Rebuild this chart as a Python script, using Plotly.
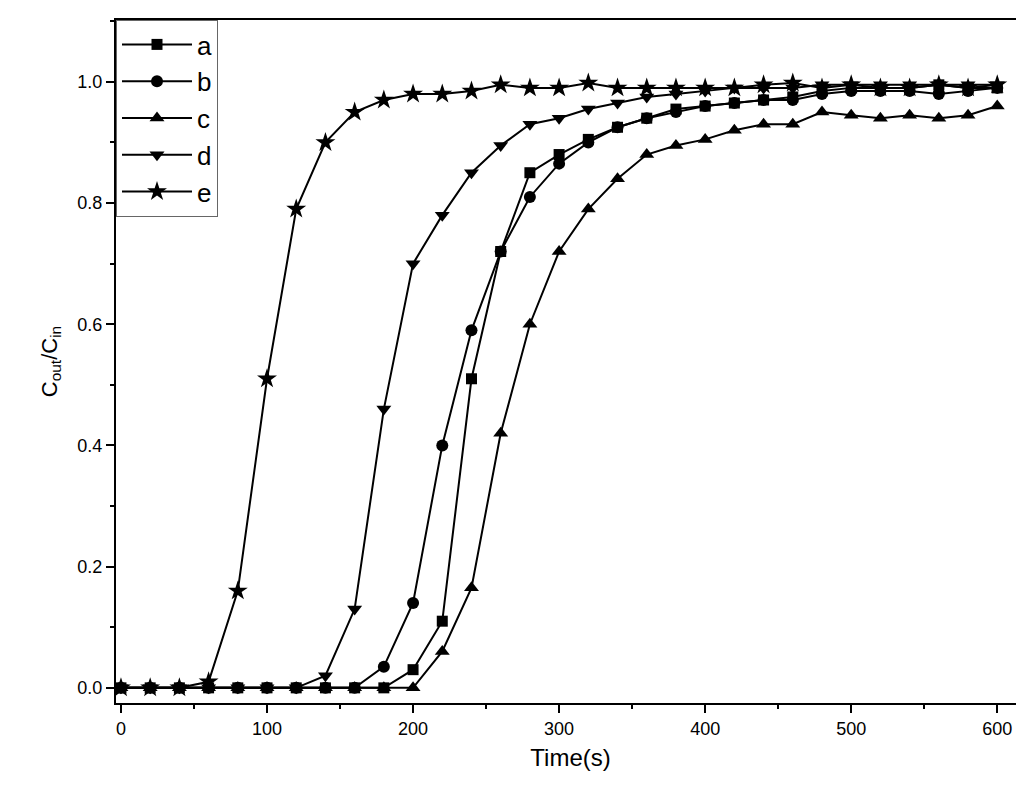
import plotly.graph_objects as go

time = list(range(0, 601, 20))
a = [0,0,0,0,0,0,0,0,0,0,0.03,0.11,0.51,0.72,0.85,0.88,0.905,0.925,0.94,0.955,0.96,0.965,0.97,0.975,0.985,0.99,0.99,0.99,0.995,0.99,0.99]
b = [0,0,0,0,0,0,0,0,0,0.035,0.14,0.40,0.59,0.72,0.81,0.865,0.90,0.925,0.94,0.95,0.96,0.965,0.97,0.97,0.98,0.985,0.985,0.985,0.98,0.985,0.99]
c = [0,0,0,0,0,0,0,0,0,0,0,0.06,0.165,0.42,0.60,0.72,0.79,0.84,0.88,0.895,0.905,0.92,0.93,0.93,0.95,0.945,0.94,0.945,0.94,0.945,0.96]
d = [0,0,0,0,0,0,0,0.02,0.13,0.46,0.70,0.78,0.85,0.895,0.93,0.94,0.955,0.965,0.975,0.98,0.985,0.99,0.99,0.99,0.995,0.995,0.995,0.995,0.995,0.995,0.995]
e = [0,0,0,0.01,0.16,0.51,0.79,0.90,0.95,0.97,0.98,0.98,0.985,0.995,0.99,0.99,0.998,0.99,0.99,0.99,0.99,0.99,0.995,0.998,0.99,0.995,0.99,0.99,0.995,0.99,0.995]

series = [("a", a, "square", 11), ("b", b, "circle", 12), ("c", c, "triangle-up", 13),
          ("d", d, "triangle-down", 13), ("e", e, "star", 15)]

fig = go.Figure()
for name, ys, sym, sz in series:
    fig.add_trace(go.Scatter(x=time, y=ys, name=name, mode="lines+markers",
                             line=dict(color="black", width=2),
                             marker=dict(symbol=sym, size=sz, color="black")))

ax = dict(showline=True, linecolor="black", linewidth=2, mirror=True, ticks="outside",
          ticklen=8, tickwidth=1.5, tickcolor="black", showgrid=False, zeroline=False,
          tickfont=dict(size=18, color="black"), automargin=False)
fig.update_layout(
    width=1024, height=786, plot_bgcolor="white", paper_bgcolor="white",
    margin=dict(l=108, r=7, t=12, b=91, autoexpand=False),
    font=dict(family="Liberation Sans, Arial", color="black"),
    xaxis=dict(ax, range=[-3.4, 619], tickvals=[0,100,200,300,400,500,600],
               minor=dict(ticks="outside", ticklen=4, tickcolor="black", dtick=50, tick0=0),
               title=dict(text="Time(s)", font=dict(size=24), standoff=12)),
    yaxis=dict(ax, range=[-0.025, 1.102], tickvals=[0,0.2,0.4,0.6,0.8,1.0], tickformat=".1f",
               minor=dict(ticks="outside", ticklen=4, tickcolor="black", dtick=0.1, tick0=0),
               title=dict(text="C<sub>out</sub>/C<sub>in</sub>", font=dict(size=22), standoff=14)),
    legend=dict(x=0.0, y=1.0, xanchor="left", yanchor="top", bordercolor="#666",
                borderwidth=1, bgcolor="white", font=dict(size=26), itemwidth=70,
                tracegroupgap=0, itemsizing="trace"),
    showlegend=True,
)
fig.write_html("out.html")
